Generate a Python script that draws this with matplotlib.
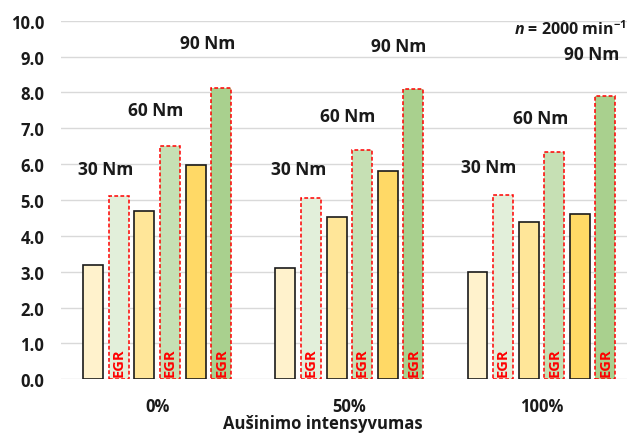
import matplotlib
matplotlib.use("Agg")
import matplotlib.pyplot as plt
import numpy as np

plt.rcParams['font.family'] = ['Open Sans', 'DejaVu Sans']
plt.rcParams['mathtext.fontset'] = 'custom'
plt.rcParams['mathtext.it'] = 'Open Sans:italic:bold'
plt.rcParams['mathtext.rm'] = 'Open Sans:bold'
plt.rcParams['mathtext.bf'] = 'Open Sans:bold'

# Cooling intensity groups
categories = ["0%", "50%", "100%"]

# Series: load without EGR / with EGR
series_names = ["30 Nm", "30 Nm EGR", "60 Nm", "60 Nm EGR", "90 Nm", "90 Nm EGR"]
values_30 = [3.2, 3.1, 3.0]
values_30_egr = [5.1, 5.05, 5.14]
values_60 = [4.7, 4.52, 4.4]
values_60_egr = [6.5, 6.4, 6.33]
values_90 = [5.97, 5.8, 4.6]
values_90_egr = [8.12, 8.09, 7.9]
series_values = [values_30, values_30_egr, values_60, values_60_egr, values_90, values_90_egr]
series_egr = [False, True, False, True, False, True]

fill_colors = ["#FFF2CC", "#E2EFDA", "#FFE699", "#C6E0B4", "#FFD966", "#A9D08E"]

# Load labels placed above each group (x offset from group centre, y value)
load_labels = ["30 Nm", "60 Nm", "90 Nm"]
label_dx = [[-0.269, -0.009, 0.264],
            [-0.263, -0.009, 0.257],
            [-0.273, -0.003, 0.263]]
label_y = [[5.86, 7.52, 9.39],
           [5.86, 7.35, 9.30],
           [5.93, 7.30, 9.07]]

yticks = np.arange(0, 10.01, 1.0)

fig = plt.figure(figsize=(6.27, 4.35), dpi=100)
ax = fig.add_axes([0.0974, 0.1257, 0.9026, 0.8244])

x = np.arange(len(categories))
slot = 0.1332
width = 0.104
for i, (vals, egr, fc) in enumerate(zip(series_values, series_egr, fill_colors)):
    pos = x + (i - 2.5) * slot
    if egr:
        ax.bar(pos, vals, width, color=fc, edgecolor="#FF0000",
               linewidth=1.1, linestyle=(0, (2.5, 1.5)), zorder=3)
        for p in pos:
            ax.text(p, 0.08, "EGR", rotation=90, rotation_mode="anchor",
                    ha="left", va="center", color="#FF0000", fontsize=10.5,
                    fontweight="bold", zorder=4)
    else:
        ax.bar(pos, vals, width, color=fc, edgecolor="#1A1A1A",
               linewidth=1.2, zorder=3)

for g in range(len(categories)):
    for lab, dx, yy in zip(load_labels, label_dx[g], label_y[g]):
        ax.text(g + dx, yy, lab, ha="center", va="center", fontsize=12.5,
                fontweight="bold", color="#1A1A1A", zorder=5)

ax.text(0.999, 0.978, r"$n$ = 2000 min$^{-1}$", transform=ax.transAxes,
        ha="right", va="center", fontsize=11.5, fontweight="bold", color="#1A1A1A")

ax.set_xlim(-0.5, 2.445)
ax.set_ylim(0, 10)
ax.set_yticks(yticks)
ax.set_yticklabels([f"{v:.1f}" for v in yticks], fontsize=12, fontweight="bold",
                   color="#1A1A1A")
ax.set_xticks(x)
ax.set_xticklabels(categories, fontsize=12, fontweight="bold", color="#1A1A1A")
ax.tick_params(axis="both", length=0)
ax.tick_params(axis="y", pad=12)
ax.tick_params(axis="x", pad=13)
ax.grid(axis="y", color="#D9D9D9", linewidth=1.0, zorder=0)
ax.set_axisbelow(True)
for s in ax.spines.values():
    s.set_visible(False)

fig.text(323 / 627, 1 - 424 / 435, "Aušinimo intensyvumas", ha="center", va="center",
         fontsize=12, fontweight="bold", color="#1A1A1A")

fig.savefig("out.png", dpi=100)
